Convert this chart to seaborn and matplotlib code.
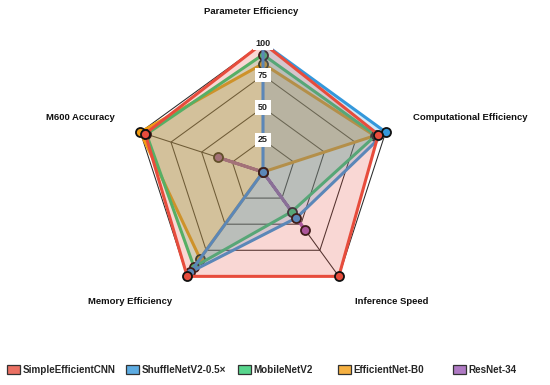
import numpy as np
import matplotlib
matplotlib.use("Agg")
import matplotlib.pyplot as plt
from matplotlib.patches import Patch
import seaborn as sns

categories = ["Parameter Efficiency", "Computational Efficiency", "Inference Speed",
              "Memory Efficiency", "M600 Accuracy"]
series_names = ["SimpleEfficientCNN", "ShuffleNetV2-0.5×", "MobileNetV2", "EfficientNet-B0", "ResNet-34"]
simple_cnn = [100, 94, 100, 100, 96]
shufflenet = [100, 100, 44, 96, 0]
mobilenet = [91, 92, 38, 91, 95]
efficientnet = [84, 91, 0, 83, 100]
resnet = [0, 0, 56, 0, 37]
radial_ticks = [25, 50, 75, 100]

series_values = [simple_cnn, shufflenet, mobilenet, efficientnet, resnet]
colors = ["#e74c3c", "#3498db", "#2ecc71", "#f39c12", "#9b59b6"]

sns.set_theme(style="white")
plt.rcParams['font.family'] = ['Liberation Sans', 'DejaVu Sans']

W, H = 550, 385
fig = plt.figure(figsize=(5.5, 3.85), dpi=100)
cx, cy, R = 263, 172, 129
ax = fig.add_axes([(cx - R) / W, (H - cy - R) / H, 2 * R / W, 2 * R / H], projection="polar")
ax.set_theta_offset(np.pi / 2)
ax.set_theta_direction(-1)
ax.set_ylim(0, 100)
ax.grid(False)
ax.spines["polar"].set_visible(False)
ax.set_xticks([])
ax.set_yticks([])
ax.patch.set_alpha(0)

n = len(categories)
angles = np.linspace(0, 2 * np.pi, n, endpoint=False)
closed = np.concatenate([angles, angles[:1]])

# polygon grid and spokes
grid_col = "#2a2a2a"
for r in radial_ticks:
    ax.plot(closed, [r] * (n + 1), color=grid_col, lw=0.75, zorder=1, clip_on=False)
for a in angles:
    ax.plot([a, a], [0, 100], color=grid_col, lw=0.75, zorder=1, clip_on=False)

# datasets: first dataset drawn on top
for i in reversed(range(len(series_values))):
    vals = list(series_values[i]) + [series_values[i][0]]
    z = 3 + (len(series_values) - i)
    ax.fill(closed, vals, color=colors[i], alpha=0.22, lw=0, zorder=z, clip_on=False)
    ax.plot(closed, vals, color=colors[i], lw=2.2, zorder=z + 0.1, clip_on=False)
    ax.plot(angles, series_values[i], "o", color=colors[i], ms=6.5, mec="#111111",
            mew=1.3, zorder=z + 0.2, ls="none", clip_on=False)

for r in radial_ticks:
    ax.text(0, r, str(r), ha="center", va="center", fontsize=6.5, fontweight="bold",
            color="#222222", zorder=30,
            bbox=dict(boxstyle="square,pad=0.3", fc="white", ec="none"))

# point labels
def ftext(x, y, s, ha):
    fig.text(x / W, 1 - y / H, s, ha=ha, va="center", fontsize=6.8, fontweight="bold", color="#111111")

ftext(251, 11, categories[0], "center")
ftext(413, 118, categories[1], "left")
ftext(355, 302, categories[2], "left")
ftext(88, 302, categories[3], "left")
ftext(115, 117, categories[4], "right")

# legend entries laid out individually
legend_x = [7, 126, 238, 338, 453]
for name, c, lx in zip(series_names, colors, legend_x):
    h = Patch(facecolor=matplotlib.colors.to_rgba(c, 0.8), edgecolor="#333333", lw=0.9)
    fig.legend([h], [name], loc="center left", bbox_to_anchor=(lx / W, 1 - 370 / H),
               frameon=False, prop=dict(weight="bold", size=7.1), handlelength=1.3,
               handleheight=1.0, handletextpad=0.3, borderpad=0, borderaxespad=0)

fig.savefig("out.png", dpi=100)
